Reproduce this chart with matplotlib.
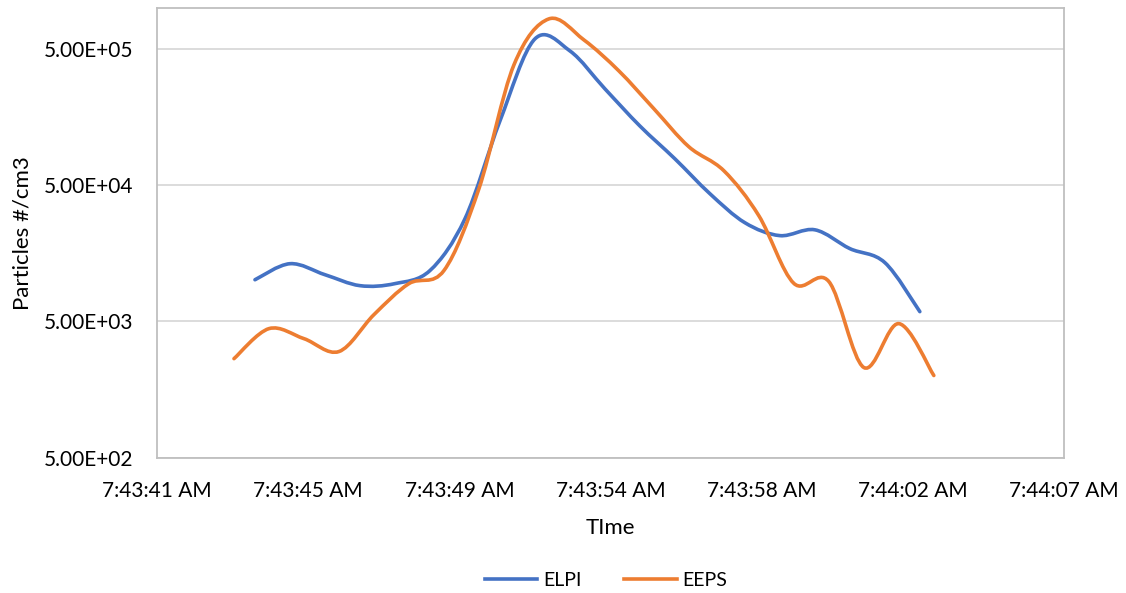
import numpy as np
import matplotlib.pyplot as plt
from matplotlib.path import Path
from matplotlib.patches import PathPatch
from matplotlib.lines import Line2D
from matplotlib.ticker import FixedLocator, FuncFormatter, NullLocator

plt.rcParams['font.family'] = ['Lato', 'DejaVu Sans']

# seconds after 7:43:00 AM
elpi_t = [43.6, 44.6, 45.6, 46.6, 47.6, 48.6, 49.6, 50.6, 51.6, 52.6,
          53.6, 54.6, 55.6, 56.6, 57.6, 58.6, 59.6, 60.6, 61.6, 62.6]
elpi = [10100, 13250, 11000, 9140, 9460, 11800, 28300, 148000, 593000, 484000,
        255000, 136000, 78100, 43300, 26500, 21300, 23500, 17100, 13500, 5890]

eeps_t = [43, 44, 45, 46, 47, 48, 49, 50, 51, 52, 53,
          54, 55, 56, 57, 58, 59, 60, 61, 62, 63]
eeps = [2660, 4420, 3730, 3000, 5600, 9460, 11800, 47100, 382000, 832000, 583000,
        345000, 182000, 95700, 63800, 29800, 9500, 9800, 2290, 4810, 2000]

y_ticks = [5e2, 5e3, 5e4, 5e5]
x_start = 40.8      # 7:43:40.8, axis starts here
x_step = 4.32       # 0.00005 day
n_ticks = 7

BLUE = '#4472C4'
ORANGE = '#ED7D31'


def smooth_path(t, v):
    # Catmull-Rom style bezier (like a "smoothed line"), done in log space
    p = np.column_stack([np.asarray(t, float), np.log10(v)])
    n = len(p)
    verts = [p[0]]
    codes = [Path.MOVETO]
    for i in range(n - 1):
        p0 = p[max(i - 1, 0)]
        p3 = p[min(i + 2, n - 1)]
        c1 = p[i] + (p[i + 1] - p0) / 6
        c2 = p[i + 1] - (p3 - p[i]) / 6
        verts += [c1, c2, p[i + 1]]
        codes += [Path.CURVE4] * 3
    verts = np.array(verts)
    verts[:, 1] = 10 ** verts[:, 1]
    return Path(verts, codes)


def time_label(x, pos):
    s = int(round(x))
    m, s = 43 + s // 60, s % 60
    return "7:%02d:%02d AM" % (m, s)


fig = plt.figure(figsize=(11.26, 5.93), dpi=100)
ax = fig.add_axes([157 / 1126, 1 - 457.5 / 593, (1064 - 157) / 1126, (457.5 - 8) / 593])
ax.set_yscale('log')
ax.set_xlim(x_start, x_start + x_step * (n_ticks - 1))
ax.set_ylim(500, 1e6)

for t, v, c in [(elpi_t, elpi, BLUE), (eeps_t, eeps, ORANGE)]:
    ax.add_patch(PathPatch(smooth_path(t, v), facecolor='none', edgecolor=c,
                           lw=2.6, capstyle='round', joinstyle='round', zorder=3))

ax.yaxis.set_major_locator(FixedLocator(y_ticks))
ax.yaxis.set_minor_locator(NullLocator())
ax.yaxis.set_major_formatter(FuncFormatter(lambda y, pos: "%.2E" % y))
ax.xaxis.set_major_locator(FixedLocator([x_start + x_step * i for i in range(n_ticks)]))
ax.xaxis.set_major_formatter(FuncFormatter(time_label))

ax.grid(axis='y', color='#d9d9d9', lw=1.3)
ax.set_axisbelow(True)
for sp in ax.spines.values():
    sp.set_color('#bfbfbf')
    sp.set_linewidth(1.3)
ax.tick_params(axis='both', length=0, labelsize=15, colors='#000000')
ax.tick_params(axis='y', pad=17)
ax.tick_params(axis='x', pad=17)

ax.set_ylabel('Particles #/cm3', fontsize=16, labelpad=8)
ax.set_xlabel('TIme', fontsize=16, labelpad=12)

handles = [Line2D([], [], color=BLUE, lw=2.6), Line2D([], [], color=ORANGE, lw=2.6)]
fig.legend(handles, ['ELPI', 'EEPS'], loc='center', bbox_to_anchor=(606 / 1126, 1 - 580 / 593),
           ncol=2, frameon=False, fontsize=14, handlelength=2.7, columnspacing=2.2,
           handletextpad=0.3)

fig.savefig('out.png', dpi=100)
